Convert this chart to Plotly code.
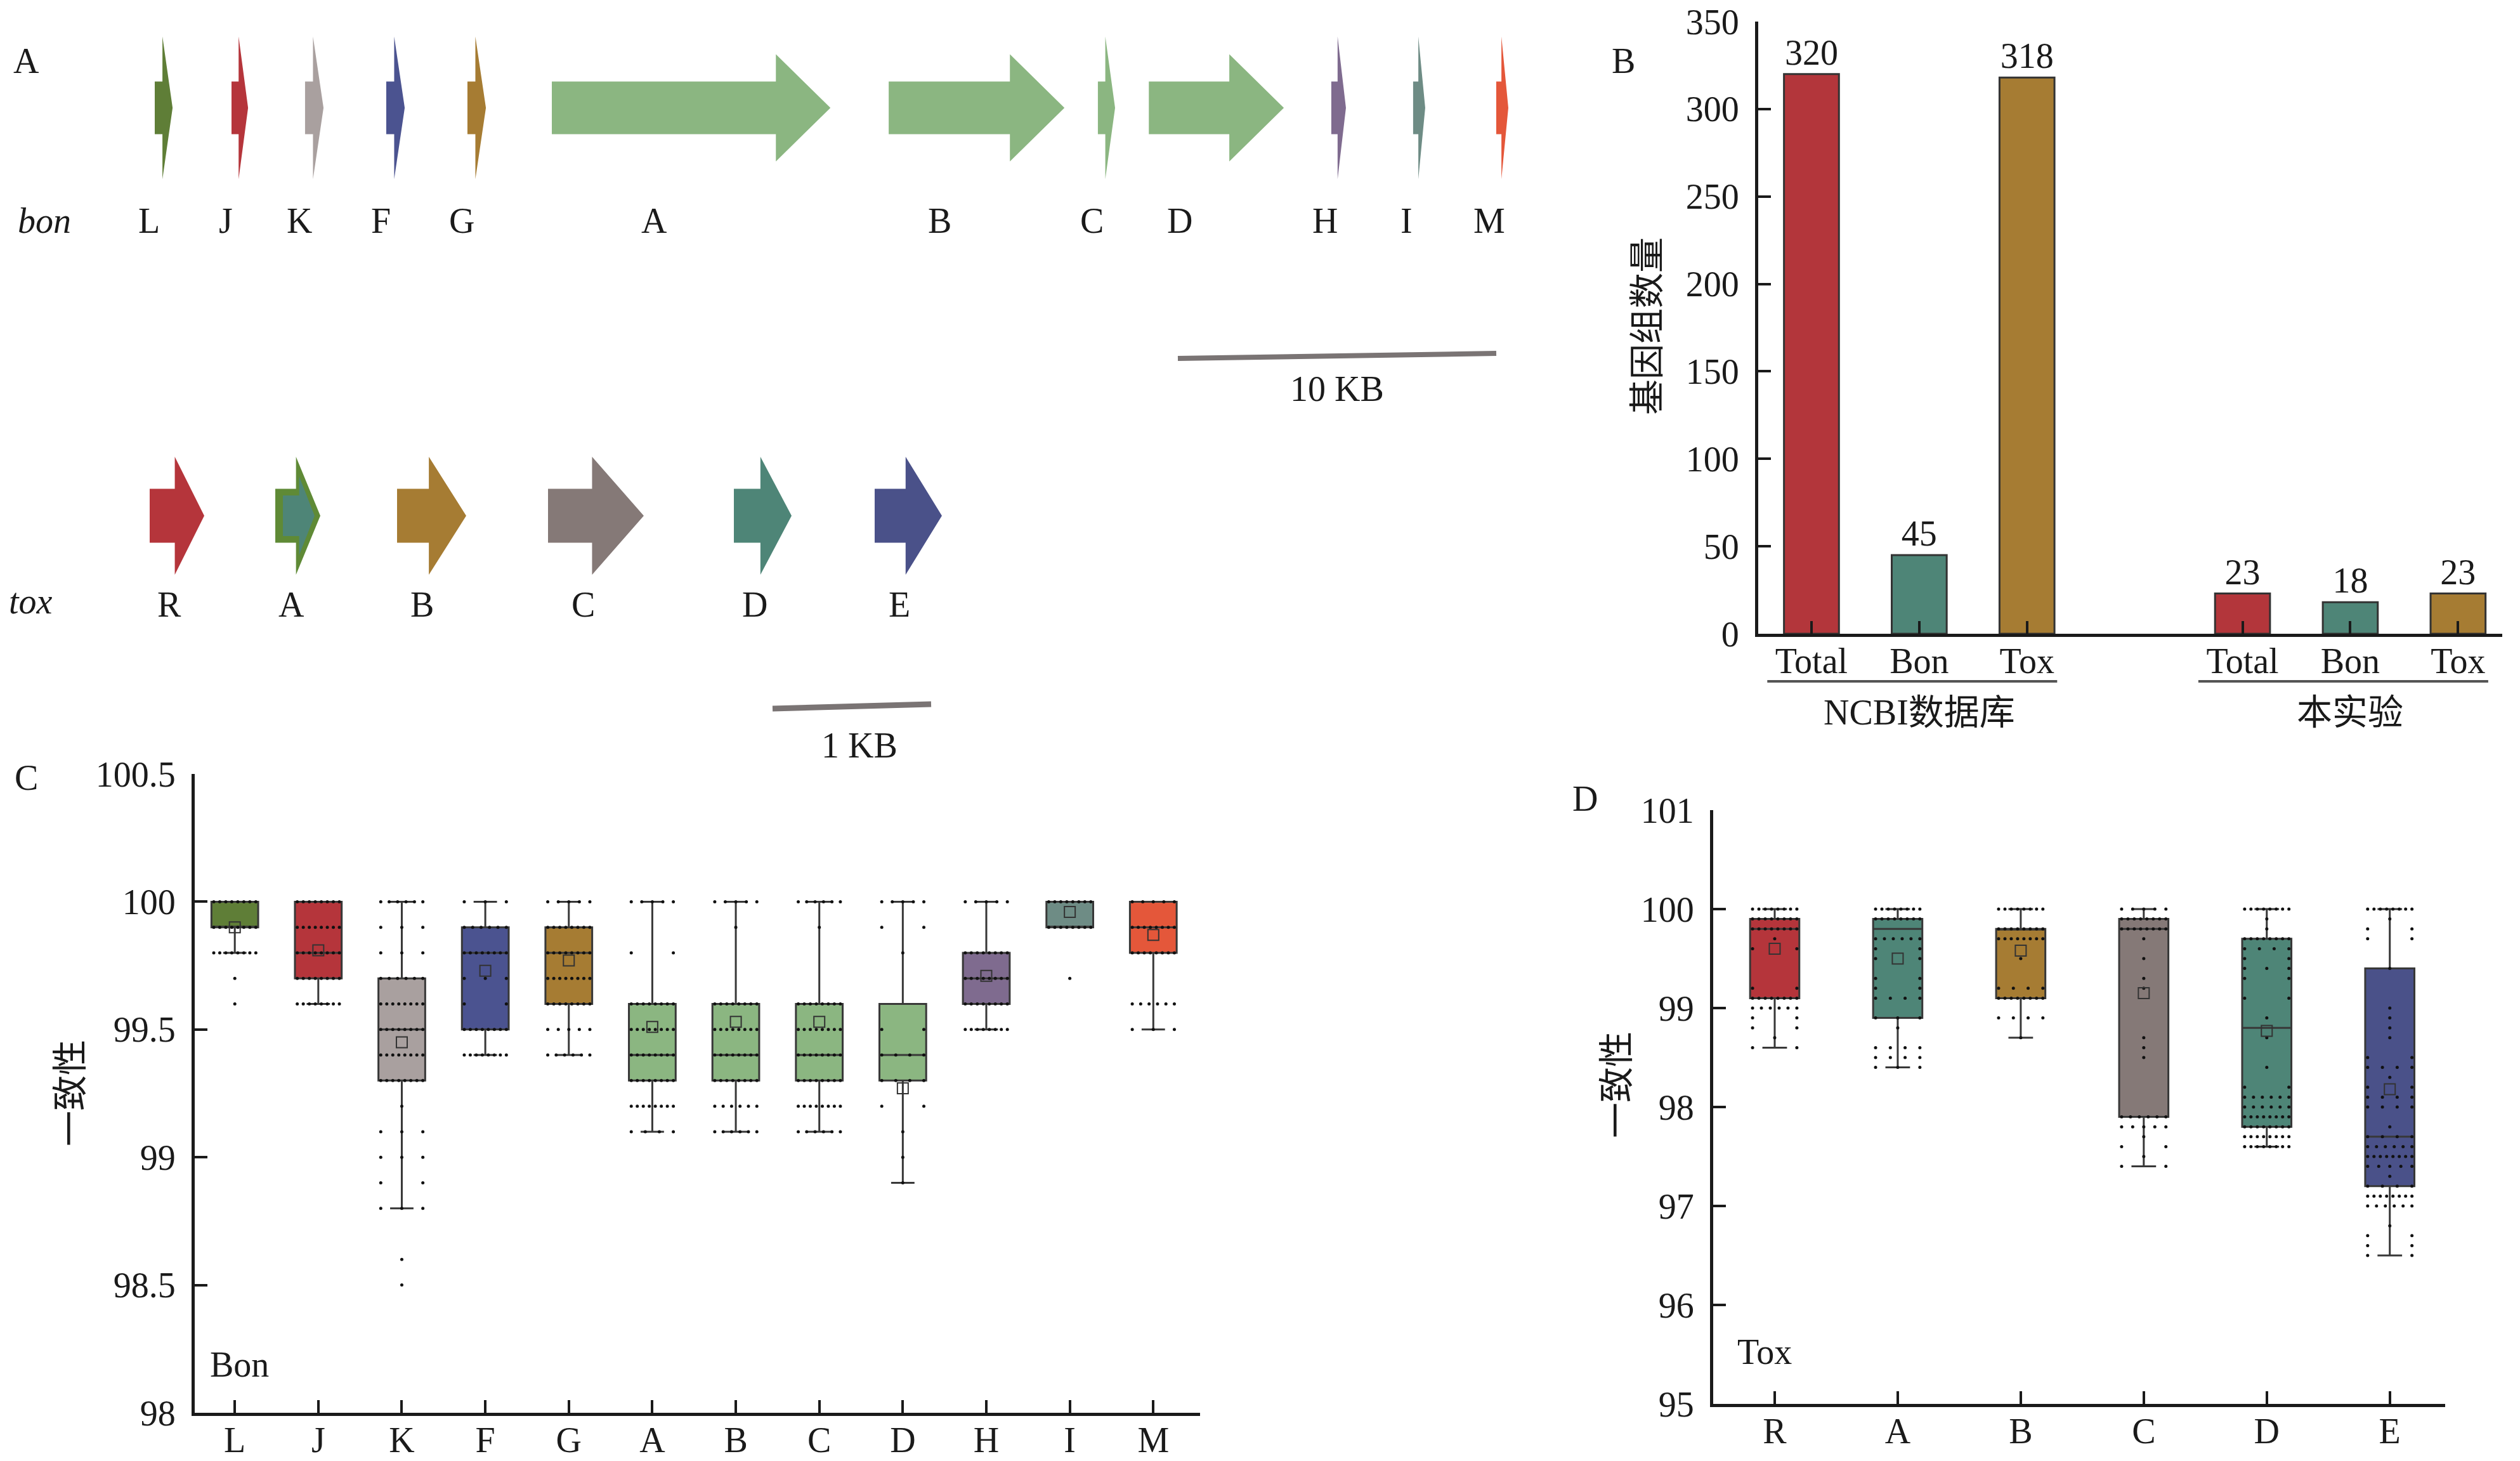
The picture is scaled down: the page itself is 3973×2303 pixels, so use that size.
import plotly.graph_objects as go

W, H = 3973, 2303
FONT = "Liberation Serif, Times New Roman, Noto Sans CJK SC, serif"
FS = 56
INK = "#1a1a1a"

# ---------------- Panel A data (gene maps) ----------------
bon_genes = ["L", "J", "K", "F", "G", "A", "B", "C", "D", "H", "I", "M"]
bon_start_kb = [0.00, 2.41, 4.72, 7.27, 9.82, 12.47, 23.05, 29.62, 31.22, 36.95, 39.52, 42.13]
bon_end_kb = [0.56, 2.93, 5.30, 7.85, 10.40, 21.22, 28.57, 30.16, 35.46, 37.41, 39.90, 42.51]
bon_gene_colors = ["#5f7e37", "#b5353b", "#a9a09f", "#4b5390", "#a67c33", "#8bb681",
                   "#8bb681", "#8bb681", "#8bb681", "#7f6b8f", "#6e8c85", "#e4573a"]
bon_scale_kb = 10

tox_genes = ["R", "A", "B", "C", "D", "E"]
tox_start_kb = [0.000, 0.792, 1.560, 2.512, 3.684, 4.572]
tox_end_kb = [0.344, 1.076, 1.996, 3.116, 4.048, 4.996]
tox_gene_colors = ["#b5353b", "#5f8a36", "#a67c33", "#857977", "#4e8577", "#4a5189"]
tox_inner_colors = [None, "#4e8577", None, None, None, None]
tox_scale_kb = 1

# ---------------- Panel B data ----------------
b_groups = ["NCBI数据库", "本实验"]
b_items = ["Total", "Bon", "Tox"]
b_values = [[320, 45, 318], [23, 18, 23]]
b_colors = ["#b3363b", "#4e8577", "#a67c33"]

# ---------------- Panel C data (Bon identity) ----------------
bon_cats = ["L", "J", "K", "F", "G", "A", "B", "C", "D", "H", "I", "M"]
bon_q1 = [99.9, 99.7, 99.3, 99.5, 99.6, 99.3, 99.3, 99.3, 99.3, 99.6, 99.9, 99.8]
bon_med = [99.9, 99.8, 99.5, 99.8, 99.8, 99.4, 99.4, 99.4, 99.4, 99.7, 99.9, 99.9]
bon_q3 = [100, 100, 99.7, 99.9, 99.9, 99.6, 99.6, 99.6, 99.6, 99.8, 100, 100]
bon_lo = [99.8, 99.6, 98.8, 99.4, 99.4, 99.1, 99.1, 99.1, 98.9, 99.5, 99.9, 99.5]
bon_hi = [100, 100, 100, 100, 100, 100, 100, 100, 100, 100, 100, 100]
bon_mean = [99.9, 99.81, 99.45, 99.73, 99.77, 99.51, 99.53, 99.53, 99.27, 99.71, 99.96, 99.87]
bon_box_colors = ["#5f7e37", "#b5353b", "#a9a09f", "#4b5390", "#a67c33", "#8bb681",
                  "#8bb681", "#8bb681", "#8bb681", "#7f6b8f", "#6e8c85", "#e4573a"]
bon_dots = [
    [(100, 8), (99.9, 8), (99.8, 8), (99.7, 1), (99.6, 1)],
    [(100, 8), (99.9, 8), (99.8, 8), (99.7, 8), (99.6, 8)],
    [(100, 6), (99.9, 3), (99.8, 3), (99.7, 6), (99.6, 8), (99.5, 8), (99.4, 8), (99.3, 8),
     (99.2, 1), (99.1, 3), (99.0, 3), (98.9, 2), (98.8, 3), (98.6, 1), (98.5, 1)],
    [(100, 3), (99.9, 6), (99.8, 8), (99.7, 3), (99.6, 2), (99.5, 8), (99.4, 8)],
    [(100, 5), (99.9, 8), (99.8, 8), (99.7, 8), (99.6, 8), (99.5, 5), (99.4, 6)],
    [(100, 5), (99.8, 2), (99.6, 8), (99.5, 8), (99.4, 8), (99.3, 8), (99.2, 8), (99.1, 4)],
    [(100, 5), (99.9, 1), (99.6, 8), (99.5, 8), (99.4, 8), (99.3, 8), (99.2, 6), (99.1, 6)],
    [(100, 6), (99.9, 1), (99.6, 8), (99.5, 8), (99.4, 8), (99.3, 8), (99.2, 8), (99.1, 6)],
    [(100, 5), (99.9, 2), (99.8, 1), (99.5, 2), (99.4, 4), (99.3, 4), (99.2, 2), (99.1, 1),
     (99.0, 1), (98.9, 1)],
    [(100, 5), (99.8, 8), (99.7, 8), (99.6, 8), (99.5, 8)],
    [(100, 8), (99.9, 8), (99.7, 1)],
    [(100, 5), (99.9, 8), (99.8, 8), (99.6, 6), (99.5, 3)],
]

# ---------------- Panel D data (Tox identity) ----------------
tox_cats = ["R", "A", "B", "C", "D", "E"]
tox_q1 = [99.1, 98.9, 99.1, 97.9, 97.8, 97.2]
tox_med = [99.8, 99.8, 99.8, 99.8, 98.8, 97.7]
tox_q3 = [99.9, 99.9, 99.8, 99.9, 99.7, 99.4]
tox_lo = [98.6, 98.4, 98.7, 97.4, 97.6, 96.5]
tox_hi = [100, 100, 100, 100, 100, 100]
tox_mean = [99.6, 99.5, 99.58, 99.15, 98.77, 98.18]
tox_box_colors = ["#b5353b", "#4e8577", "#a67c33", "#857977", "#4e8577", "#4a5189"]
tox_dots = [
    [(100, 8), (99.9, 8), (99.8, 8), (99.7, 1), (99.6, 2), (99.2, 2), (99.1, 8), (99.0, 6),
     (98.9, 2), (98.8, 2), (98.7, 1), (98.6, 2)],
    [(100, 8), (99.9, 8), (99.7, 6), (99.6, 2), (99.5, 2), (99.3, 2), (99.2, 2), (99.1, 4),
     (98.9, 3), (98.8, 1), (98.6, 4), (98.5, 4), (98.4, 3)],
    [(100, 8), (99.8, 8), (99.7, 8), (99.5, 1), (99.2, 4), (99.1, 8), (98.9, 4), (98.7, 1)],
    [(100, 5), (99.9, 8), (99.8, 8), (99.7, 1), (99.5, 1), (99.3, 1), (99.2, 1), (98.7, 1),
     (98.6, 1), (98.5, 1), (97.9, 6), (97.8, 5), (97.7, 1), (97.6, 2), (97.5, 1), (97.4, 2)],
    [(100, 8), (99.9, 1), (99.8, 1), (99.7, 8), (99.6, 4), (99.5, 2), (99.4, 3), (99.3, 2),
     (99.1, 2), (98.9, 1), (98.7, 1), (98.4, 1), (98.2, 2), (98.1, 6), (98.0, 6), (97.9, 8),
     (97.8, 8), (97.7, 8), (97.6, 8)],
    [(100, 8), (99.9, 1), (99.8, 2), (99.7, 2), (99.4, 1), (99.0, 1), (98.9, 1), (98.8, 1),
     (98.7, 1), (98.5, 2), (98.4, 4), (98.3, 1), (98.2, 2), (98.1, 4), (98.0, 4), (97.8, 1),
     (97.7, 4), (97.6, 6), (97.5, 8), (97.4, 5), (97.3, 1), (97.2, 4), (97.1, 8), (97.0, 6),
     (96.8, 1), (96.7, 2), (96.6, 2), (96.5, 2)],
]


# ---------------- helpers ----------------
def X(p):
    return p / W


def Y(p):
    return 1 - p / H


shapes = []
annotations = []


def arrow_path(x0, x1, yc, bh, hh, hl):
    xb = x1 - hl
    pts = [(x0, yc - bh), (xb, yc - bh), (xb, yc - hh), (x1, yc),
           (xb, yc + hh), (xb, yc + bh), (x0, yc + bh)]
    return "M " + " L ".join(f"{X(a):.5f},{Y(b):.5f}" for a, b in pts) + " Z"


def text(x, y, s, size=FS, xanchor="center", angle=0, italic=False):
    if italic:
        s = f"<i>{s}</i>"
    annotations.append(dict(x=X(x), y=Y(y), xref="paper", yref="paper", text=s,
                            showarrow=False, xanchor=xanchor, yanchor="middle",
                            textangle=angle, font=dict(family=FONT, size=size, color=INK)))


# ---------------- Panel A drawing ----------------
BON_X0, BON_PPK, BON_YC = 244, 50.2, 170
BON_LABEL_SHIFT = -15
for g, s, e, c in zip(bon_genes, bon_start_kb, bon_end_kb, bon_gene_colors):
    x0 = BON_X0 + s * BON_PPK
    x1 = BON_X0 + e * BON_PPK
    L = x1 - x0
    if L > 150:
        hl, hh = 86, 84.5
    else:
        hl, hh = 0.57 * L, 112.5
    shapes.append(dict(type="path", path=arrow_path(x0, x1, BON_YC, 41.5, hh, hl),
                       xref="paper", yref="paper", fillcolor=c, line=dict(width=0)))
    text((x0 + x1 - hl) / 2 + BON_LABEL_SHIFT, 348, g)
text(70, 348, "bon", italic=True)
text(41, 96, "A")
sb_x0 = 1857
sb_x1 = sb_x0 + bon_scale_kb * BON_PPK
shapes.append(dict(type="line", xref="paper", yref="paper", x0=X(sb_x0), y0=Y(565),
                   x1=X(sb_x1), y1=Y(557), line=dict(color="#7a7474", width=8)))
text((sb_x0 + sb_x1) / 2, 613, f"{bon_scale_kb} KB")

TOX_X0, TOX_PPK, TOX_YC = 236, 250, 813
for g, s, e, c, ic in zip(tox_genes, tox_start_kb, tox_end_kb, tox_gene_colors, tox_inner_colors):
    x0 = TOX_X0 + s * TOX_PPK
    x1 = TOX_X0 + e * TOX_PPK
    L = x1 - x0
    hl = 0.54 * L
    shapes.append(dict(type="path", path=arrow_path(x0, x1, TOX_YC, 42.5, 93, hl),
                       xref="paper", yref="paper", fillcolor=c, line=dict(width=0)))
    if ic:
        shapes.append(dict(type="path",
                           path=arrow_path(x0 + 12, x1 - 9, TOX_YC, 32, 62, hl - 14),
                           xref="paper", yref="paper", fillcolor=ic, line=dict(width=0)))
    text(((x0 + x1 - hl) / 2 + (x0 + x1) / 2) / 2, 953, g)
text(48, 948, "tox", italic=True)
tb_x0 = 1218
tb_x1 = tb_x0 + tox_scale_kb * TOX_PPK
shapes.append(dict(type="line", xref="paper", yref="paper", x0=X(tb_x0), y0=Y(1117),
                   x1=X(tb_x1), y1=Y(1110), line=dict(color="#7a7474", width=9)))
text((tb_x0 + tb_x1) / 2 + 12, 1175, f"{tox_scale_kb} KB")

# ---------------- Figure ----------------
fig = go.Figure()

# Panel B bars
GROUP_STEP = len(b_items) + 1
for gi, (grp, vals) in enumerate(zip(b_groups, b_values)):
    pos = [gi * GROUP_STEP + j for j in range(len(b_items))]
    fig.add_trace(go.Bar(x=pos, y=vals, width=0.51, marker=dict(color=b_colors,
                         line=dict(color="#333333", width=3)),
                         text=[str(v) for v in vals], textposition="outside",
                         textfont=dict(family=FONT, size=FS, color=INK),
                         cliponaxis=False, xaxis="x", yaxis="y", hoverinfo="skip"))
    shapes.append(dict(type="line", xref="x", yref="paper", x0=pos[0] - 0.41,
                       x1=pos[-1] + 0.28, y0=Y(1074), y1=Y(1074),
                       line=dict(color="#555555", width=4)))
    annotations.append(dict(x=pos[1], y=Y(1123), xref="x", yref="paper", text=grp,
                            showarrow=False, font=dict(family=FONT, size=FS, color=INK)))
b_tickvals = [gi * GROUP_STEP + j for gi in range(len(b_groups)) for j in range(len(b_items))]
b_ticktext = b_items * len(b_groups)


def add_boxes(cats, q1, med, q3, lo, hi, mean, colors, dots, xa, ya, bw):
    for i in range(len(cats)):
        fig.add_trace(go.Box(x=[i], q1=[q1[i]], median=[med[i]], q3=[q3[i]],
                             lowerfence=[lo[i]], upperfence=[hi[i]], width=bw,
                             fillcolor=colors[i], line=dict(color="#383838", width=3),
                             whiskerwidth=0.5, boxpoints=False, xaxis=xa, yaxis=ya,
                             hoverinfo="skip"))
    xs, ys = [], []
    spread = bw * 0.9
    for i, rows in enumerate(dots):
        for level, n in rows:
            if n == 1:
                offs = [0.0]
            else:
                offs = [(-0.5 + k / (n - 1)) * spread for k in range(n)]
            for o in offs:
                xs.append(i + o)
                ys.append(level)
    fig.add_trace(go.Scatter(x=xs, y=ys, mode="markers", xaxis=xa, yaxis=ya,
                             marker=dict(size=5, color="#111111"), hoverinfo="skip"))
    fig.add_trace(go.Scatter(x=list(range(len(cats))), y=mean, mode="markers",
                             xaxis=xa, yaxis=ya, hoverinfo="skip",
                             marker=dict(symbol="square-open", size=17, color="#333333",
                                         line=dict(width=2, color="#333333"))))


add_boxes(bon_cats, bon_q1, bon_med, bon_q3, bon_lo, bon_hi, bon_mean, bon_box_colors,
          bon_dots, "x2", "y2", 0.56)
add_boxes(tox_cats, tox_q1, tox_med, tox_q3, tox_lo, tox_hi, tox_mean, tox_box_colors,
          tox_dots, "x3", "y3", 0.40)

# panel letters, inner labels, axis titles
text(2559, 96, "B")
text(41, 1226, "C")
text(2499, 1259, "D")
text(329, 2151, "Bon", xanchor="left")
text(2737, 2131, "Tox", xanchor="left")
text(2597, 514, "基因组数量", angle=-90)
text(111, 1723, "一致性", angle=-90)
text(2549, 1710, "一致性", angle=-90)

axis_common = dict(showline=True, linecolor=INK, linewidth=5, ticks="inside",
                   tickcolor=INK, tickwidth=4, ticklen=20, showgrid=False, zeroline=False,
                   automargin=False, tickfont=dict(family=FONT, size=FS, color=INK))
x_extra = dict(ticklabelstandoff=-10)
y_extra = dict(ticklabelstandoff=14)

fig.update_layout(
    width=W, height=H, margin=dict(l=0, r=0, t=0, b=0, pad=0, autoexpand=False),
    paper_bgcolor="white", plot_bgcolor="white", showlegend=False,
    font=dict(family=FONT, size=FS, color=INK),
    xaxis=dict(domain=[2772 / W, 3945 / W], range=[-0.494, 6.41], anchor="y",
               tickvals=b_tickvals, ticktext=b_ticktext, **axis_common, **x_extra),
    yaxis=dict(domain=[Y(999), Y(34)], range=[0, 350], dtick=50, anchor="x",
               **axis_common, **y_extra),
    xaxis2=dict(domain=[307 / W, 1892 / W], range=[-0.48, 11.56], anchor="y2",
                tickvals=list(range(len(bon_cats))), ticktext=bon_cats,
                **axis_common, **x_extra),
    yaxis2=dict(domain=[Y(2227), Y(1220)], range=[98, 100.5], dtick=0.5, anchor="x2",
                **axis_common, **y_extra),
    xaxis3=dict(domain=[2701 / W, 3855 / W], range=[-0.5, 5.45], anchor="y3",
                tickvals=list(range(len(tox_cats))), ticktext=tox_cats,
                **axis_common, **x_extra),
    yaxis3=dict(domain=[Y(2213), Y(1277)], range=[95, 101], dtick=1, anchor="x3",
                **axis_common, **y_extra),
    shapes=shapes, annotations=annotations,
)

fig.write_html("out.html", config={"displayModeBar": False},
               post_script="document.body.style.margin='0';")
